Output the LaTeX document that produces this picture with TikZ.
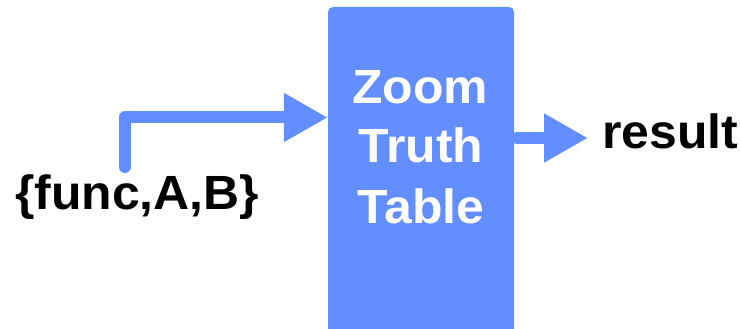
\documentclass[tikz,border=0pt]{standalone}
\usepackage{fontspec}
\setmainfont{Liberation Sans}
\usetikzlibrary{arrows.meta}
\definecolor{boxblue}{HTML}{628EFF}
\newcommand{\wide}[1]{\scalebox{1.04}[1]{#1}}
\begin{document}
\begin{tikzpicture}[x=1pt,y=-1pt,
  bigtext/.style={font=\fontsize{48}{58}\selectfont\bfseries, inner sep=0pt},
  flow/.style={draw=boxblue, line width=12pt, line cap=round, line join=round,
    -{Triangle[length=44pt,width=46pt]}}]
\useasboundingbox (0,0) rectangle (740,329);
\node[fill=boxblue, rounded corners=5pt, minimum width=186pt, minimum height=340pt, inner sep=0pt] (box) at (421,177) {};
\node[bigtext, text=white, anchor=base] (l1) at (420,104) {\wide{Zoom}};
\node[bigtext, text=white, anchor=base] (l2) at (421,163) {\wide{Truth}};
\node[bigtext, text=white, anchor=base] (l3) at (421,223) {\wide{Table}};
\node[bigtext, anchor=base west] (inp) at (15,209) {\wide{\{func,A,B\}}};
\node[bigtext, anchor=base west] (res) at (602,149) {\wide{result}};
\coordinate (start) at (124.5,167);
\coordinate (outstart) at (517,138);
\coordinate (outend) at (588,138);
\draw[flow] (start) |- (box.west |- 0,117.5);
\draw[flow] (outstart) -- (outend);
\end{tikzpicture}
\end{document}
